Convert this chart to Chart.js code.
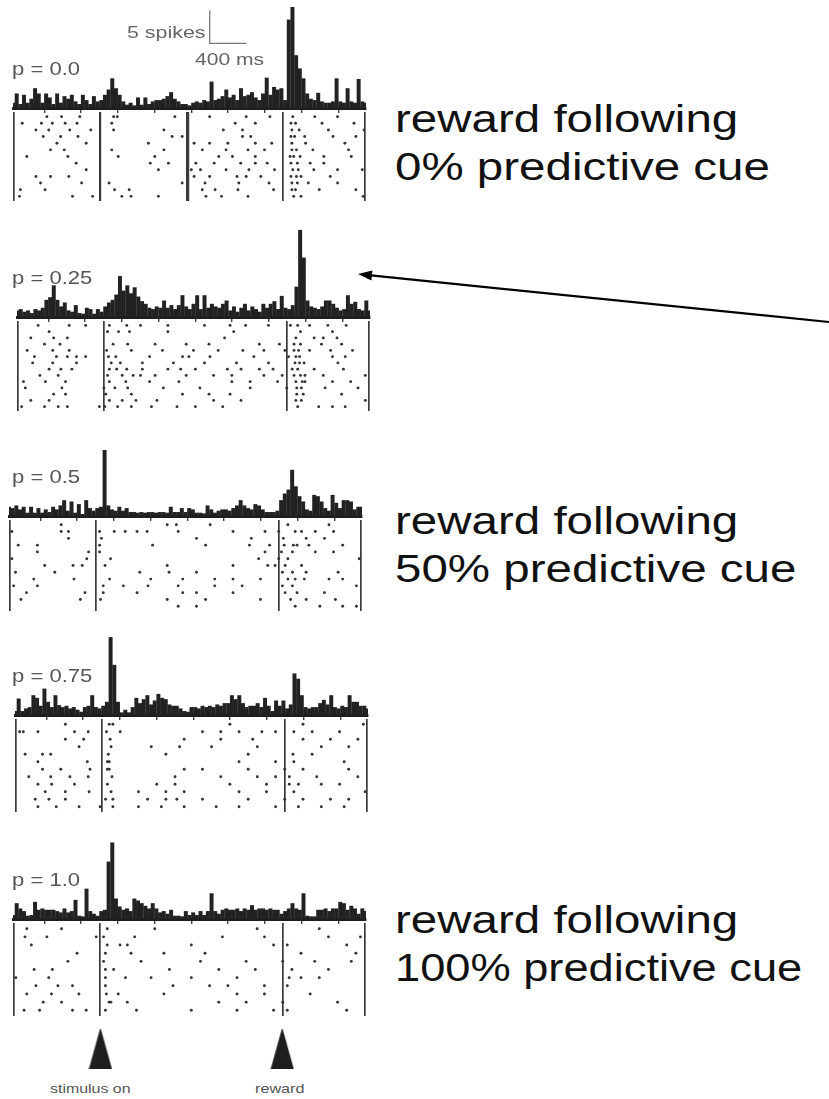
<!DOCTYPE html>
<html>
<head>
<meta charset="utf-8">
<script src="https://cdn.jsdelivr.net/npm/chart.js@4.4.0/dist/chart.umd.min.js"></script>
<style>
  body { margin: 0; width: 829px; height: 1099px; position: relative; overflow: hidden; background: #fff;
         font-family: Arial, "Liberation Sans", sans-serif; }
  .box { position: absolute; }
  .lbl { position: absolute; white-space: nowrap; line-height: 1; transform-origin: 0 0; }
  svg { position: absolute; left: 0; top: 0; }
</style>
</head>
<body>
<script>
// time axis (ms, stimulus at 0, reward at 2000)
const BIN_START = -960;
const BIN_MS = 40;
const X_MIN = -940;
const X_MAX = 2900;
const TICK_MS = [-800, -400, 0, 400, 800, 1200, 1600, 2000, 2400, 2800];
const EVENT_MS = [0, 2000];
const EVENT_NAMES = ["stimulus on", "reward"];

const PANEL_NAMES = ["p = 0.0", "p = 0.25", "p = 0.5", "p = 0.75", "p = 1.0"];

// PSTH bin heights (spikes), 40 ms bins from -960 ms
const hist00 = [0.8, 2.2, 0.6, 2.0, 0.8, 1.4, 3.0, 2.2, 0.8, 2.2, 1.6, 0.6, 2.2, 0.8, 1.8, 1.4, 2.0, 1.0, 0.6, 2.0, 1.2, 0.6, 1.8, 1.0,
  1.2, 2.0, 2.8, 4.5, 3.0, 2.0, 1.0, 0.5, 0.8, 0.4, 1.6, 0.5, 1.6, 0.6, 1.0, 1.2, 1.2, 1.4, 1.8, 2.4, 1.4, 1.0, 0.6, 0.6, 0.4,
  0.8, 1.0, 0.8, 1.2, 1.0, 4.0, 1.2, 1.4, 1.8, 2.8, 1.6, 2.0, 1.2, 3.0, 1.8, 2.0, 2.4, 1.6, 1.2, 2.2, 4.6, 2.0, 3.2, 2.8, 3.0,
  1.2, 13.4, 15.3, 8.0, 6.0, 4.5, 2.2, 1.4, 1.2, 2.3, 1.0, 0.8, 0.8, 1.0, 4.5, 1.0, 0.8, 3.0, 1.0, 0.8, 4.4, 1.0, 0.8, 0.8];
const hist25 = [1.0, 1.2, 0.8, 1.0, 0.6, 1.2, 1.0, 1.4, 2.6, 3.0, 4.8, 2.6, 1.6, 2.2, 1.0, 0.8, 1.8, 0.6, 0.5, 1.4, 1.2, 0.5, 1.2, 0.8,
  1.6, 2.2, 2.6, 3.4, 6.2, 4.0, 4.8, 3.6, 4.5, 3.1, 2.4, 2.0, 1.4, 1.2, 1.6, 1.4, 2.5, 1.4, 1.8, 1.2, 1.8, 3.3, 1.6, 1.2, 2.0,
  3.3, 1.2, 3.3, 1.4, 2.0, 1.6, 1.4, 2.0, 2.5, 1.0, 1.6, 0.8, 1.4, 2.0, 1.0, 1.6, 1.2, 0.8, 2.0, 1.4, 2.0, 2.4, 1.2, 3.2, 1.4,
  1.2, 1.8, 4.6, 13.2, 9.0, 2.5, 1.6, 1.4, 1.2, 1.6, 2.5, 2.5, 2.0, 1.4, 1.0, 1.2, 3.3, 2.0, 2.3, 1.2, 1.0, 2.5, 1.0, 2.5];
const hist50 = [1.4, 1.2, 1.6, 1.0, 1.4, 0.5, 1.4, 0.5, 1.2, 0.5, 1.0, 0.6, 1.4, 1.0, 1.6, 2.4, 0.8, 2.2, 0.5, 1.8, 0.3, 2.4, 1.2, 0.8,
  1.2, 1.4, 10.0, 1.6, 1.0, 0.8, 1.4, 0.8, 1.2, 0.6, 0.6, 0.5, 0.6, 0.5, 0.6, 0.6, 0.5, 0.6, 0.6, 0.5, 1.4, 0.6, 0.6, 1.2, 0.6,
  1.2, 1.0, 0.5, 0.5, 0.4, 1.6, 1.0, 0.5, 0.8, 1.0, 1.0, 0.8, 1.2, 1.6, 2.4, 1.6, 1.2, 1.0, 1.8, 1.6, 1.0, 0.6, 0.6, 0.6, 0.8,
  2.4, 3.4, 4.0, 7.0, 4.5, 3.0, 2.2, 1.0, 0.8, 3.2, 3.0, 2.2, 1.2, 0.8, 3.2, 2.0, 1.2, 2.4, 2.4, 2.2, 1.0, 1.4, 1.4, 0.8];
const hist75 = [0.6, 2.5, 0.6, 1.0, 1.2, 3.0, 2.6, 1.4, 4.0, 2.0, 1.2, 3.0, 1.5, 1.2, 1.4, 1.0, 1.2, 0.8, 0.5, 1.2, 1.4, 3.0, 1.2, 1.0,
  1.4, 2.0, 11.8, 7.6, 2.0, 0.4, 0.8, 0.4, 1.2, 2.6, 1.8, 2.4, 3.0, 1.6, 2.2, 3.2, 2.6, 2.4, 1.6, 1.4, 1.4, 1.0, 0.6, 0.5, 1.2,
  1.2, 1.0, 1.4, 1.2, 1.4, 1.2, 1.6, 1.4, 1.8, 1.8, 3.0, 2.4, 3.0, 1.8, 1.2, 1.4, 1.4, 1.8, 1.2, 2.6, 1.4, 0.6, 2.2, 1.4, 2.2,
  1.0, 1.6, 6.3, 5.5, 3.0, 1.2, 1.0, 1.2, 1.2, 1.8, 2.3, 1.6, 3.0, 1.2, 1.0, 1.4, 1.2, 3.0, 2.0, 2.0, 1.4, 1.4, 1.0, 1.2];
const hist100 = [0.6, 2.4, 1.6, 1.2, 0.5, 0.6, 2.6, 1.4, 1.6, 1.4, 1.4, 1.4, 1.2, 1.0, 1.6, 1.0, 1.2, 2.9, 0.5, 0.4, 4.6, 1.2, 0.8, 0.5,
  1.2, 1.4, 8.7, 11.6, 3.1, 1.9, 1.4, 1.6, 1.2, 3.1, 2.8, 2.4, 2.0, 1.6, 2.4, 1.6, 1.0, 1.2, 0.8, 1.4, 0.5, 0.5, 0.4, 1.2, 0.6,
  1.0, 0.6, 1.2, 0.6, 1.2, 3.9, 1.2, 0.8, 1.4, 1.6, 1.4, 1.4, 1.6, 1.2, 1.6, 1.4, 2.1, 1.4, 1.6, 1.6, 1.4, 1.6, 1.4, 1.4, 0.8,
  1.2, 1.6, 2.4, 1.6, 1.4, 3.9, 0.5, 0.4, 0.4, 1.4, 1.4, 1.6, 1.2, 1.6, 1.6, 2.6, 2.4, 1.4, 2.0, 1.6, 0.8, 1.6, 1.2, 1.0];

// raster: one row per trial, spike times in ms
const raster00 = [
  [-580, -420, -220, 150, 190, 820, 1200, 1600, 1860, 2110, 2350, 2600],
  [-850, -640, -520, -380, -250, 130, 1480, 1700, 2090, 2140, 2430, 2780],
  [-700, -560, -330, -100, 150, 700, 1350, 1560, 2100, 2180, 2500, 2890],
  [-620, -430, -240, 790, 900, 1560, 1650, 2090, 2130, 2240, 2550, 2800],
  [-470, -150, 530, 1030, 1200, 1400, 1700, 1880, 2100, 2250, 2680],
  [-540, -390, 130, 700, 1120, 1380, 1620, 1800, 2100, 2150, 2330, 2720],
  [-800, -350, 200, 600, 1300, 1450, 1700, 2080, 2120, 2190, 2450, 2750],
  [-260, 550, 750, 1050, 1250, 1540, 1700, 1830, 2090, 2160, 2300, 2450],
  [-150, 640, 1000, 1100, 1380, 1630, 1910, 2110, 2170, 2340, 2600, 2870],
  [-700, -540, -340, 1030, 1200, 1500, 1600, 1760, 2090, 2150, 2200, 2520],
  [-650, -200, 100, 900, 1150, 1520, 1850, 2100, 2160, 2280, 2600],
  [-870, -600, 160, 320, 1120, 1260, 1510, 1900, 2100, 2140, 2400, 2800],
  [-880, -300, -80, 240, 340, 640, 1160, 1330, 1620, 2120, 2200, 2880]
];
const raster25 = [
  [-720, -380, -200, 60, 250, 400, 700, 1100, 1380, 1550, 1800, 2040, 2120, 2250, 2450, 2650],
  [-600, 40, 160, 280, 700, 1420, 2150, 2500],
  [-800, -550, -400, 1320, 2100, 2300, 2400, 2550],
  [-650, -480, 100, 260, 560, 900, 1150, 1700, 1920, 2080, 2150, 2380, 2600],
  [-840, -560, -380, 30, 300, 640, 980, 1250, 1520, 1750, 1980, 2080, 2130, 2250, 2480, 2720],
  [-760, -520, -400, -300, -200, 50, 130, 500, 860, 930, 1160, 1640, 2020, 2100, 2140, 2500, 2640],
  [-780, -560, -300, 80, 180, 420, 760, 1100, 1450, 1800, 2090, 2140, 2190, 2560],
  [-600, -470, -350, 60, 140, 250, 420, 700, 840, 1000, 1350, 1500, 1700, 1850, 2060, 2120, 2300, 2620],
  [-700, -500, 40, 200, 320, 400, 560, 900, 1200, 1400, 1750, 1950, 2080, 2150, 2200, 2400, 2860],
  [-880, -640, -420, 60, 240, 500, 820, 1400, 1600, 1900, 2100, 2170, 2200, 2500, 2700],
  [-860, -460, 0, 120, 260, 650, 1050, 1600, 2000, 2110, 2160, 2420, 2780],
  [-550, -420, 20, 300, 860, 1150, 1380, 2110, 2180, 2600],
  [-800, -600, 60, 200, 350, 580, 1200, 1500, 2100, 2160, 2860],
  [-900, -650, -500, -400, -50, 10, 150, 300, 520, 800, 1000, 1300, 2120, 2350, 2500, 2640]
];
const raster50 = [
  [-380, 780, 880, 1250, 2100, 2550],
  [-920, -380, -300, 40, 200, 320, 450, 560, 900, 1500, 1850, 2000, 2180, 2250, 2400, 2600],
  [-300, 60, 1100, 1700, 2050, 2300, 2500],
  [-850, -640, 40, 620, 1200, 1680, 1900, 2060, 2160, 2200, 2330, 2700],
  [-640, -80, 40, 1850, 2030, 2150, 2400, 2600],
  [-920, -100, 160, 1780, 2000, 2100, 2880],
  [-560, -250, -150, 100, 780, 1500, 1880, 1960, 2070, 2250],
  [-880, -450, 480, 800, 1100, 2040, 2150, 2300, 2650],
  [-680, -240, 150, 600, 950, 1300, 1500, 1800, 2100, 2180, 2280, 2550, 2700],
  [-900, -640, 80, 300, 570, 900, 1300, 1600, 2040, 2150, 2850],
  [-760, -120, 80, 450, 950, 1100, 1500, 2070, 2200, 2500],
  [-820, -170, 50, 780, 1200, 1800, 2130, 2300, 2620],
  [900, 1100, 2180, 2450, 2700, 2850]
];
const raster75 = [
  [-400, 80, 120, 1400, 2200, 2860],
  [-900, -860, -700, -300, -150, 50, 200, 1100, 1300, 1500, 1750, 1900, 2100, 2300, 2600],
  [-400, -200, 90, 900, 1300, 1650, 2200, 2500, 2800],
  [-250, 100, 540, 850, 1200, 1700, 2400, 2700],
  [-840, -650, -560, 70, 700, 1600, 2090, 2300],
  [-700, -160, 60, 80, 1500, 1900, 2100, 2650],
  [-650, -450, -130, 60, 80, 900, 1100, 1600, 2000, 2200, 2700],
  [-800, -560, -350, -150, 110, 800, 1300, 1700, 1900, 2050, 2350, 2800],
  [-700, -550, -300, 60, 600, 800, 1400, 1800, 2050, 2150, 2400, 2600],
  [-620, -400, -140, 100, 400, 700, 900, 1500, 1800, 2100, 2880],
  [-730, -580, -400, 40, 120, 500, 700, 820, 1100, 1600, 2000, 2200, 2500, 2700],
  [-700, -500, -250, -20, 120, 400, 650, 900, 1250, 1500, 1900, 2150, 2400, 2650]
];
const raster100 = [
  [-800, -420, 80, 600, 1720, 2400],
  [-820, -580, -40, 40, 380, 1340, 1800, 2500, 2850],
  [-750, 80, 220, 300, 1000, 1900, 2050, 2700],
  [-250, 60, 340, 700, 1150, 2200, 2800],
  [-350, 40, 450, 1100, 1600, 2000, 2350, 2750],
  [-720, -520, 60, 150, 760, 1300, 1700, 2100, 2500],
  [-920, -560, 60, 280, 560, 1000, 1500, 2070, 2200, 2400],
  [-700, -460, -300, 60, 800, 1200, 1400, 1800, 2050],
  [-800, -530, -230, 70, 200, 700, 1500, 1800, 2300],
  [-620, -420, 100, 120, 300, 1300, 1600, 2000, 2600],
  [-830, -660, -300, -150, 60, 400, 1000, 1500, 1900, 2050, 2700]
];
// extra marker line seen in the first raster
const EXTRA_LINES = [[960], [], [], [], []];

// scale bar
const SCALE_SPIKES = 5;
const SCALE_MS = 400;

const HISTS = [hist00, hist25, hist50, hist75, hist100];
const RASTERS = [raster00, raster25, raster50, raster75, raster100];

const CAPTION_LINES = [
  ["reward following", "0% predictive cue"],
  ["reward following", "50% predictive cue"],
  ["reward following", "100% predictive cue"]
];

// layout (pixels)
const PANEL_LEFT = [13, 17, 9, 15, 13];
const PANEL_BASE = [108, 317, 516, 715, 919];
const PANEL_BOTTOM = [205, 415, 615, 816, 1020];
const CAPTION_BASE = [132, 534, 933];
const CAPTION_SX = [[1.25, 1.25], [1.25, 1.25], [1.25, 1.19]];
const PLOT_W = 353, PAD = 3, HIST_H = 104, TICK_LEN = 5, PX_PER_SPIKE = 6.6;

function box(left, top, w, h) {
  const d = document.createElement('div');
  d.className = 'box';
  Object.assign(d.style, { left: left + 'px', top: top + 'px', width: w + 'px', height: h + 'px' });
  const c = document.createElement('canvas');
  d.appendChild(c);
  document.body.appendChild(d);
  return c;
}

function label(text, left, top, size, color, sx) {
  const s = document.createElement('div');
  s.className = 'lbl';
  s.textContent = text;
  Object.assign(s.style, { left: left + 'px', top: top + 'px', fontSize: size + 'px', color: color,
    transform: 'scaleX(' + sx + ')' });
  document.body.appendChild(s);
  return s;
}

const baseOpts = {
  animation: false,
  responsive: true,
  maintainAspectRatio: false,
  layout: { padding: { left: PAD, right: PAD, top: 0, bottom: 0 } },
  plugins: { legend: { display: false }, tooltip: { enabled: false } }
};

function histChart(i) {
  const canvas = box(PANEL_LEFT[i] - PAD, PANEL_BASE[i] - HIST_H, PLOT_W + 2 * PAD, HIST_H + TICK_LEN);
  const datasets = [{
    type: 'bar',
    data: HISTS[i].map((v, k) => ({ x: BIN_START + BIN_MS * (k + 0.5), y: v })),
    backgroundColor: '#222',
    borderWidth: 0,
    barPercentage: 1.08,
    categoryPercentage: 1
  }];
  if (i === 0) {
    const sx = 1200, sy = 9.8;
    datasets.push({
      type: 'line',
      data: [{ x: sx, y: sy + SCALE_SPIKES }, { x: sx, y: sy }, { x: sx + SCALE_MS, y: sy }],
      borderColor: '#777', borderWidth: 1.3, pointRadius: 0, fill: false, tension: 0
    });
  }
  new Chart(canvas, {
    type: 'bar',
    data: { datasets },
    options: Object.assign({}, baseOpts, {
      scales: {
        x: {
          type: 'linear', min: X_MIN, max: X_MAX, offset: false,
          afterBuildTicks: ax => { ax.ticks = TICK_MS.map(v => ({ value: v })); },
          ticks: { display: false },
          grid: { drawOnChartArea: false, drawTicks: true, tickLength: TICK_LEN, color: '#444', lineWidth: 1.4 },
          border: { display: true, color: '#1e1e1e', width: 3 }
        },
        y: { display: false, min: 0, max: HIST_H / PX_PER_SPIKE }
      }
    })
  });
}

function rasterChart(i) {
  const rows = RASTERS[i];
  const lines = [X_MIN, ...EVENT_MS, ...EXTRA_LINES[i], X_MAX];
  const canvas = box(PANEL_LEFT[i] - PAD, PANEL_BASE[i], PLOT_W + 2 * PAD, PANEL_BOTTOM[i] - PANEL_BASE[i]);
  const pts = [];
  rows.forEach((r, j) => r.forEach(t => pts.push({ x: t, y: j + 1 })));
  new Chart(canvas, {
    type: 'scatter',
    data: { datasets: [{ data: pts, pointRadius: 1.45, pointBackgroundColor: '#333', pointBorderWidth: 0 }] },
    options: Object.assign({}, baseOpts, {
      scales: {
        x: {
          type: 'linear', min: X_MIN, max: X_MAX,
          afterBuildTicks: ax => { ax.ticks = lines.map(v => ({ value: v })); },
          ticks: { display: false },
          grid: {
            drawTicks: false, color: '#3a3a3a',
            lineWidth: ctx => (EXTRA_LINES[i].includes(ctx.tick.value) ? 3.2 : (ctx.tick.value === 0 && i === 0 ? 2.2 : 1.7))
          },
          border: { display: false }
        },
        y: { display: false, reverse: true, min: 0.3, max: rows.length + 0.7 }
      }
    })
  });
}

for (let i = 0; i < 5; i++) {
  rasterChart(i);
  histChart(i);
  label(PANEL_NAMES[i], 12, PANEL_BASE[i] - 47, 17.5, '#555', 1.26);
}

// event markers under the last panel
const tri = document.createElement('canvas');
tri.width = 24; tri.height = 43;
const g = tri.getContext('2d');
g.fillStyle = '#1e1e1e';
g.beginPath(); g.moveTo(12, 0); g.lineTo(24, 43); g.lineTo(0, 43); g.closePath(); g.fill();

const evCanvas = box(PANEL_LEFT[4] - PAD, 1024, PLOT_W + 2 * PAD, 50);
new Chart(evCanvas, {
  type: 'scatter',
  data: { datasets: [{ data: EVENT_MS.map(t => ({ x: t, y: 0 })), pointStyle: tri, pointRadius: 4 }] },
  options: Object.assign({}, baseOpts, {
    scales: {
      x: { type: 'linear', min: X_MIN, max: X_MAX, display: false },
      y: { display: false, min: -1, max: 1 }
    }
  })
});

label(EVENT_NAMES[0], 50, 1082, 13.5, '#555', 1.18);
label(EVENT_NAMES[1], 255, 1082, 13.5, '#555', 1.2);

// scale bar text
label(SCALE_SPIKES + ' spikes', 127, 24, 17, '#666', 1.26);
label(SCALE_MS + ' ms', 195, 51, 17, '#666', 1.24);

// right-hand captions
CAPTION_LINES.forEach((c, k) => {
  label(c[0], 395, CAPTION_BASE[k] - 32, 38, '#111', CAPTION_SX[k][0]);
  label(c[1], 395, CAPTION_BASE[k] + 48 - 32, 38, '#111', CAPTION_SX[k][1]);
});

// arrow pointing at the p = 0.25 reward response
document.body.insertAdjacentHTML('beforeend',
  '<svg width="829" height="1099"><line x1="829" y1="322" x2="371" y2="275.4" stroke="#000" stroke-width="2.2"/>' +
  '<polygon points="358,274 371.4,280.4 372.4,270.4" fill="#000"/></svg>');
</script>
</body>
</html>
